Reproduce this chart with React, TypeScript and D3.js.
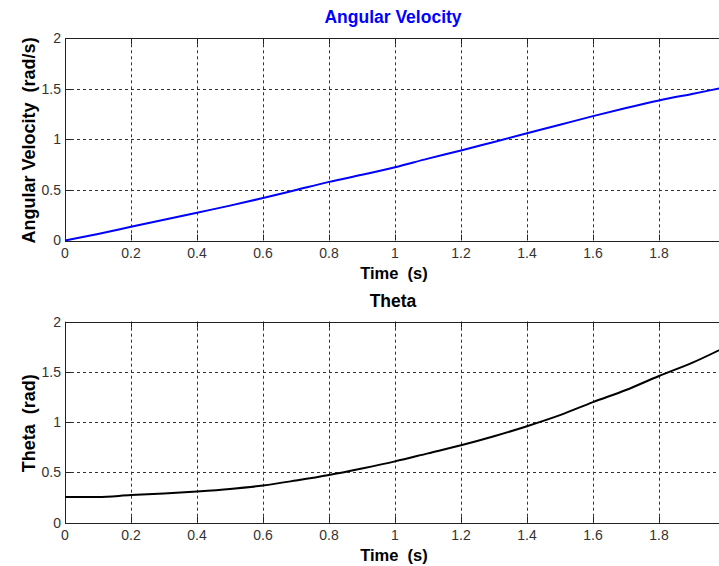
import { useEffect, useRef } from "react";
import * as d3 from "d3";

// sampled time points (s)
const time = [0, 0.1, 0.2, 0.3, 0.4, 0.5, 0.6, 0.7, 0.8, 0.9, 1.0, 1.1, 1.2, 1.3, 1.4, 1.5, 1.6, 1.7, 1.8, 1.9, 2.0];
// angular velocity (rad/s)
const angularVelocity = [0, 0.065, 0.135, 0.205, 0.275, 0.345, 0.42, 0.5, 0.58, 0.65, 0.725, 0.81, 0.89, 0.975, 1.06, 1.145, 1.23, 1.31, 1.385, 1.45, 1.515];
// theta (rad)
const theta = [0.255, 0.255, 0.275, 0.29, 0.31, 0.335, 0.37, 0.42, 0.475, 0.54, 0.61, 0.69, 0.77, 0.86, 0.96, 1.07, 1.2, 1.32, 1.46, 1.59, 1.745];

const xTicks = [0, 0.2, 0.4, 0.6, 0.8, 1, 1.2, 1.4, 1.6, 1.8];
const yTicks = [0, 0.5, 1, 1.5, 2];

const WIDTH = 719;
const HEIGHT = 566;
const FONT = "'Liberation Sans', Arial, Helvetica, sans-serif";

interface PanelSpec {
  title: string;
  titleColor: string;
  yLabel: string;
  values: number[];
  color: string;
  top: number;
  bottom: number;
}

const panels: PanelSpec[] = [
  {
    title: "Angular Velocity",
    titleColor: "#0000ff",
    yLabel: "Angular Velocity  (rad/s)",
    values: angularVelocity,
    color: "#0000ff",
    top: 38.3,
    bottom: 240.5,
  },
  {
    title: "Theta",
    titleColor: "#000000",
    yLabel: "Theta  (rad)",
    values: theta,
    color: "#000000",
    top: 321.7,
    bottom: 522.7,
  },
];

export default function App() {
  const svgRef = useRef<SVGSVGElement>(null);

  useEffect(() => {
    if (!svgRef.current) return;
    const svg = d3.select(svgRef.current);
    svg.selectAll("*").remove();

    const left = 65;
    const right = 725; // x = 2 falls just outside the visible area

    const xScale = d3.scaleLinear().domain([0, 2]).range([left, right]);

    panels.forEach((p) => {
      const yScale = d3.scaleLinear().domain([0, 2]).range([p.bottom, p.top]);
      const g = svg.append("g");

      // grid
      g.selectAll(".vgrid")
        .data(xTicks.filter((t) => t > 0))
        .enter()
        .append("line")
        .attr("x1", (d) => Math.round(xScale(d)) + 0.5)
        .attr("x2", (d) => Math.round(xScale(d)) + 0.5)
        .attr("y1", p.top)
        .attr("y2", p.bottom)
        .attr("stroke", "#333")
        .attr("stroke-dasharray", "3,3");

      g.selectAll(".hgrid")
        .data(yTicks.filter((t) => t > 0 && t < 2))
        .enter()
        .append("line")
        .attr("x1", left)
        .attr("x2", right)
        .attr("y1", (d) => Math.round(yScale(d)) + 0.5)
        .attr("y2", (d) => Math.round(yScale(d)) + 0.5)
        .attr("stroke", "#333")
        .attr("stroke-dasharray", "3,3");

      // inward ticks
      xTicks.forEach((t) => {
        const x = Math.round(xScale(t)) + 0.5;
        g.append("line")
          .attr("x1", x)
          .attr("x2", x)
          .attr("y1", p.bottom)
          .attr("y2", p.bottom - 6)
          .attr("stroke", "#222");
        g.append("line")
          .attr("x1", x)
          .attr("x2", x)
          .attr("y1", p.top)
          .attr("y2", p.top + 6)
          .attr("stroke", "#222");
      });
      yTicks.forEach((t) => {
        const y = Math.round(yScale(t)) + 0.5;
        g.append("line")
          .attr("x1", left)
          .attr("x2", left + 6)
          .attr("y1", y)
          .attr("y2", y)
          .attr("stroke", "#222");
      });

      // axes box
      g.append("rect")
        .attr("x", left + 0.5)
        .attr("y", Math.round(p.top) + 0.5)
        .attr("width", right - left)
        .attr("height", Math.round(p.bottom) - Math.round(p.top))
        .attr("fill", "none")
        .attr("stroke", "#222");

      // data line
      const line = d3
        .line<number>()
        .x((_, i) => xScale(time[i]))
        .y((d) => yScale(d))
        .curve(d3.curveMonotoneX);

      g.append("path")
        .datum(p.values)
        .attr("fill", "none")
        .attr("stroke", p.color)
        .attr("stroke-width", 2)
        .attr("d", line);

      // tick labels
      xTicks.forEach((t) => {
        g.append("text")
          .attr("x", xScale(t))
          .attr("y", p.bottom + 17.5)
          .attr("text-anchor", "middle")
          .attr("font-family", FONT)
          .attr("font-size", 14)
          .attr("fill", "#333")
          .text(d3.format("~g")(t));
      });
      yTicks.forEach((t) => {
        g.append("text")
          .attr("x", 61)
          .attr("y", yScale(t))
          .attr("dy", "0.35em")
          .attr("text-anchor", "end")
          .attr("font-family", FONT)
          .attr("font-size", 14)
          .attr("fill", "#333")
          .text(d3.format("~g")(t));
      });

      // title
      g.append("text")
        .attr("x", (left + right) / 2 - 2)
        .attr("y", p.top - 15)
        .attr("text-anchor", "middle")
        .attr("font-family", FONT)
        .attr("font-weight", "bold")
        .attr("font-size", 17.5)
        .attr("fill", p.titleColor)
        .text(p.title);

      // x label
      g.append("text")
        .attr("x", (left + right) / 2 - 1)
        .attr("y", p.bottom + 38.5)
        .attr("text-anchor", "middle")
        .attr("font-family", FONT)
        .attr("font-weight", "bold")
        .attr("font-size", 16.5)
        .attr("fill", "#000")
        .style("white-space", "pre")
        .text("Time  (s)");

      // y label
      g.append("text")
        .attr("transform", `translate(35,${(p.top + p.bottom) / 2 + 1}) rotate(-90)`)
        .attr("text-anchor", "middle")
        .attr("font-family", FONT)
        .attr("font-weight", "bold")
        .attr("font-size", 18)
        .attr("fill", "#000")
        .style("white-space", "pre")
        .text(p.yLabel);
    });
  }, []);

  return (
    <div style={{ position: "absolute", left: 0, top: 0, background: "#fff" }}>
      <svg ref={svgRef} width={WIDTH} height={HEIGHT} style={{ display: "block" }} />
    </div>
  );
}
